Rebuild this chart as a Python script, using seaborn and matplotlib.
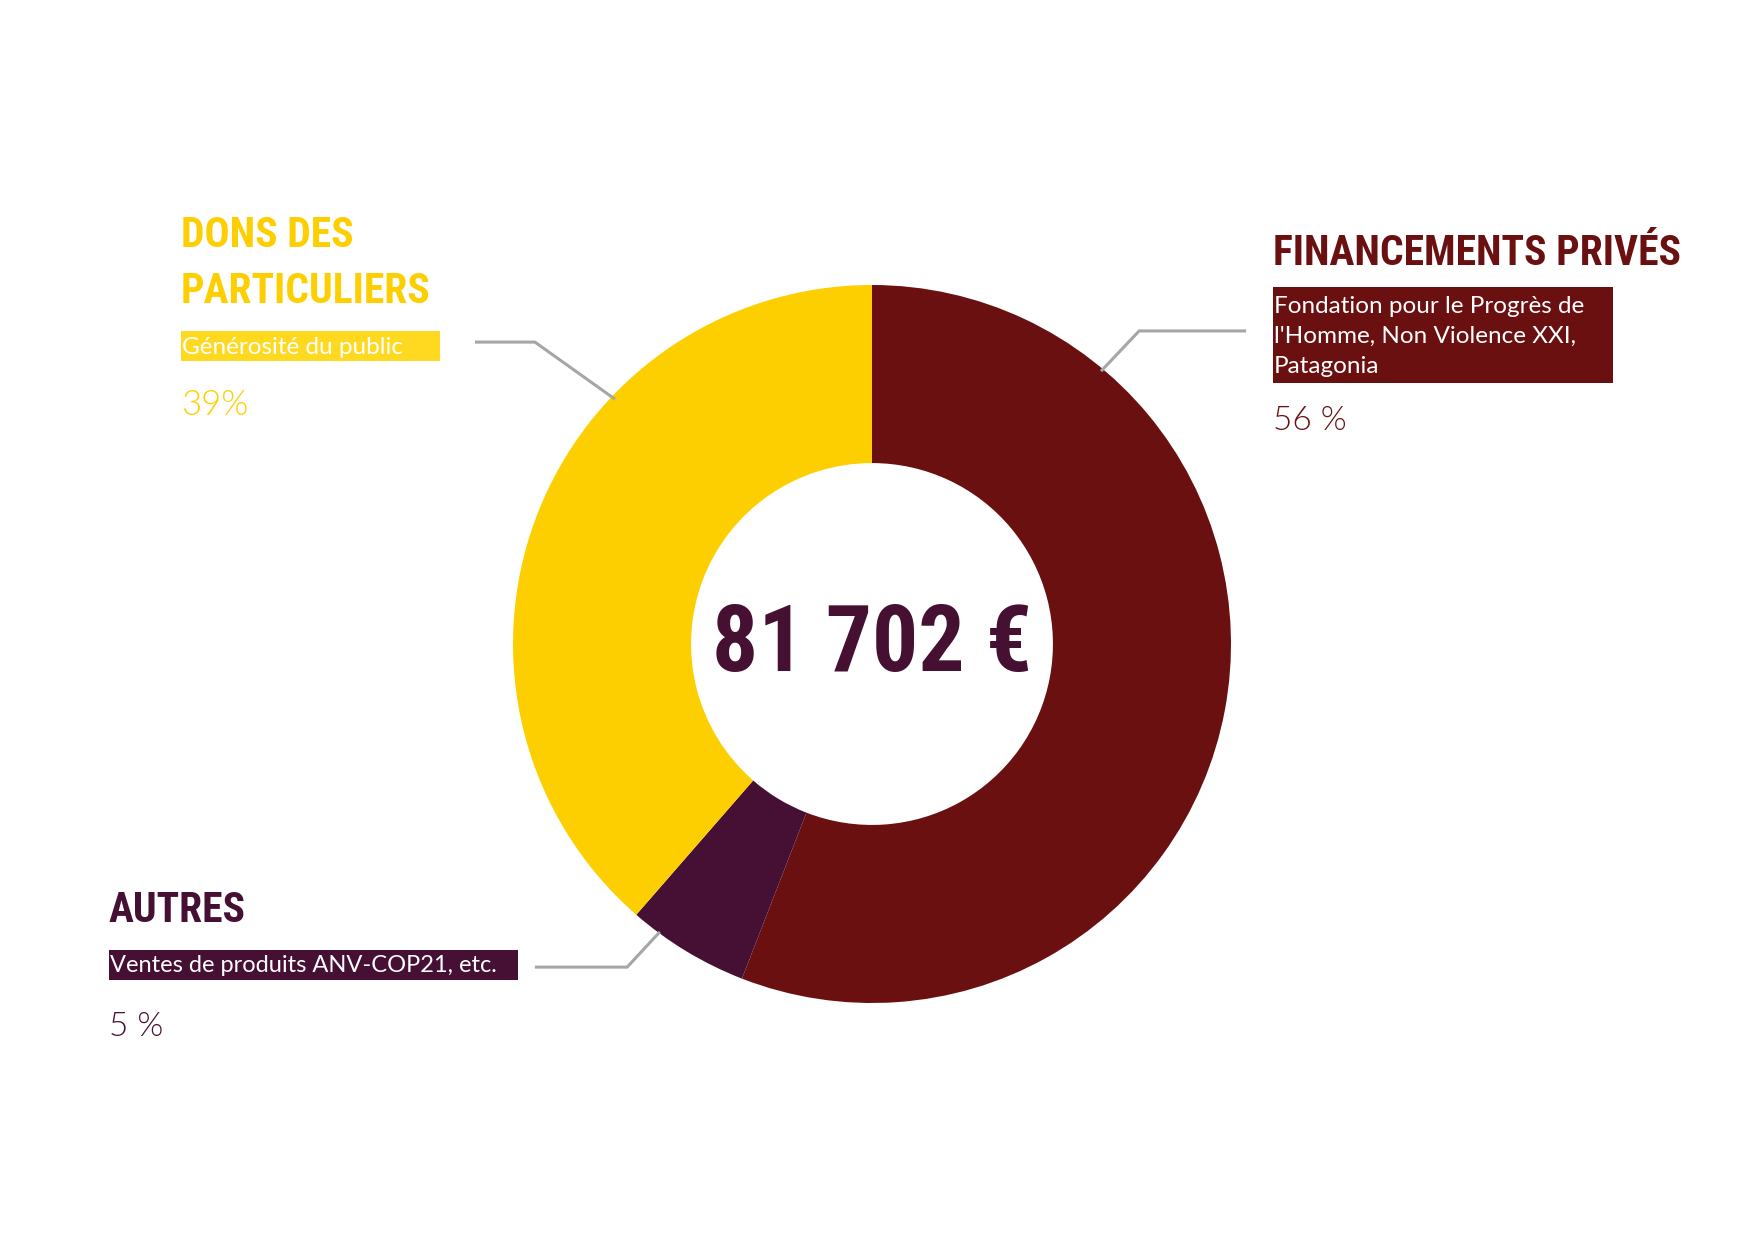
import matplotlib
matplotlib.use("Agg")
import matplotlib.pyplot as plt
import seaborn as sns
from matplotlib.patches import Rectangle
from matplotlib import font_manager
from matplotlib.font_manager import FontProperties

sns.set_theme(style="white")

# ---- data ----
categories = ["Financements privés", "Autres", "Dons des particuliers"]
shares = [55.9, 5.5, 38.6]
pct_labels = ["56 %", "5 %", "39%"]
titles = ["FINANCEMENTS PRIVÉS", "AUTRES", "DONS DES\nPARTICULIERS"]
subtitles = ["Fondation pour le Progrès de\nl'Homme, Non Violence XXI,\nPatagonia",
             "Ventes de produits ANV-COP21, etc.",
             "Générosité du public"]
total_label = "81 702 €"

colors = ["#6A1011", "#461034", "#FDCF00"]
box_colors = ["#6A1011", "#461034", "#FFD91F"]
title_colors = ["#6A1011", "#461034", "#FDCF00"]


def wnum(w):
    table = {"ultralight": 100, "light": 300, "normal": 400, "regular": 400, "book": 400,
             "medium": 500, "roman": 400, "semibold": 600, "demibold": 600,
             "demi": 600, "bold": 700, "heavy": 800, "extra bold": 800, "black": 900}
    if isinstance(w, (int, float)):
        return int(w)
    return table.get(str(w).lower(), 400)


def snum(s):
    table = {"ultra-condensed": 50, "extra-condensed": 62, "condensed": 75,
             "semi-condensed": 87, "normal": 100, "semi-expanded": 112,
             "expanded": 125}
    if isinstance(s, (int, float)):
        return int(s)
    return table.get(str(s).lower(), 100)


def find(name, weight, max_stretch=None, min_stretch=None):
    best = None
    for f in font_manager.fontManager.ttflist:
        if f.name != name or f.style != "normal":
            continue
        st = snum(f.stretch)
        if max_stretch is not None and st > max_stretch:
            continue
        if min_stretch is not None and st < min_stretch:
            continue
        d = abs(wnum(f.weight) - weight)
        if best is None or d < best[0]:
            best = (d, f.fname)
    if best and best[0] <= 100:
        return best[1]
    return None


cond_path = None
for nm, mx in [("Oswald", None), ("Roboto Condensed", None), ("Liberation Sans Narrow", None),
               ("Open Sans Condensed", None), ("Noto Sans", 80), ("DejaVu Sans", 80),
               ("Open Sans", 80), ("Roboto", 80)]:
    cond_path = find(nm, 700, max_stretch=mx)
    if cond_path:
        break
if cond_path:
    TFP = lambda s: FontProperties(fname=cond_path, size=s)
    tscale = 1.0
else:
    TFP = lambda s: FontProperties(family="DejaVu Sans", weight="bold", size=s)
    tscale = 0.72

body_path = find("Lato", 400, min_stretch=95)
light_path = find("Lato", 300, min_stretch=95)
BFP = (lambda s: FontProperties(fname=body_path, size=s)) if body_path else \
    (lambda s: FontProperties(family="DejaVu Sans", size=s))
LFP = (lambda s: FontProperties(fname=light_path, size=s)) if light_path else BFP

W, H = 1748, 1240
fig = plt.figure(figsize=(W / 100, H / 100), dpi=100)
fig.patch.set_facecolor("white")

cx, cy, R = 872, 644, 359
ax = fig.add_axes([(cx - R) / W, (H - cy - R) / H, 2 * R / W, 2 * R / H])
ax.pie(shares, colors=colors, startangle=90, counterclock=False, radius=1,
       wedgeprops=dict(width=0.496, edgecolor="none"))
ax.set_xlim(-1, 1)
ax.set_ylim(-1, 1)
ax.set_aspect("equal")
ax.axis("off")

ax.text(0, -0.005, total_label, ha="center", va="center",
        fontproperties=TFP(66 * tscale), color="#461032")

# connectors (axes data coordinates)
conn = [
    [(1.042, 0.872), (0.744, 0.872), (0.638, 0.760)],
    [(-0.939, -0.900), (-0.682, -0.900), (-0.591, -0.802)],
    [(-1.106, 0.841), (-0.939, 0.841), (-0.716, 0.682)],
]
for pts in conn:
    xs, ys = zip(*pts)
    ax.plot(xs, ys, color="#A6A6A6", lw=2.2, clip_on=False, solid_capstyle="butt")


def fx(x):
    return x / W


def fy(y):
    return 1 - y / H


def box(x0, y0, x1, y1, c):
    fig.patches.append(Rectangle((fx(x0), fy(y1)), (x1 - x0) / W, (y1 - y0) / H,
                                 transform=fig.transFigure, facecolor=c,
                                 edgecolor="none", zorder=0))


TS = 30 * tscale
BS = 17.5

# Financements privés
fig.text(fx(1273), fy(265), titles[0], fontproperties=TFP(TS),
         color=title_colors[0], va="baseline")
box(1273, 287, 1613, 383, box_colors[0])
for i, line in enumerate(subtitles[0].split("\n")):
    fig.text(fx(1274), fy(313 + 30 * i), line, fontproperties=BFP(BS),
             color="white", va="baseline")
fig.text(fx(1273), fy(430), pct_labels[0], fontproperties=LFP(24),
         color=title_colors[0], va="baseline")

# Autres
fig.text(fx(109), fy(922), titles[1], fontproperties=TFP(TS),
         color=title_colors[1], va="baseline")
box(109, 950, 518, 980, box_colors[1])
fig.text(fx(110), fy(972), subtitles[1], fontproperties=BFP(17),
         color="white", va="baseline")
fig.text(fx(109), fy(1036), pct_labels[1], fontproperties=LFP(24),
         color=title_colors[1], va="baseline")

# Dons des particuliers
for i, line in enumerate(titles[2].split("\n")):
    fig.text(fx(181), fy(247 + 56 * i), line, fontproperties=TFP(TS),
             color=title_colors[2], va="baseline")
box(181, 331, 440, 361, box_colors[2])
fig.text(fx(182), fy(354), subtitles[2], fontproperties=BFP(BS),
         color="white", va="baseline")
fig.text(fx(181), fy(415), pct_labels[2], fontproperties=LFP(25),
         color=title_colors[2], va="baseline")

fig.savefig("out.png", dpi=100, facecolor="white")
